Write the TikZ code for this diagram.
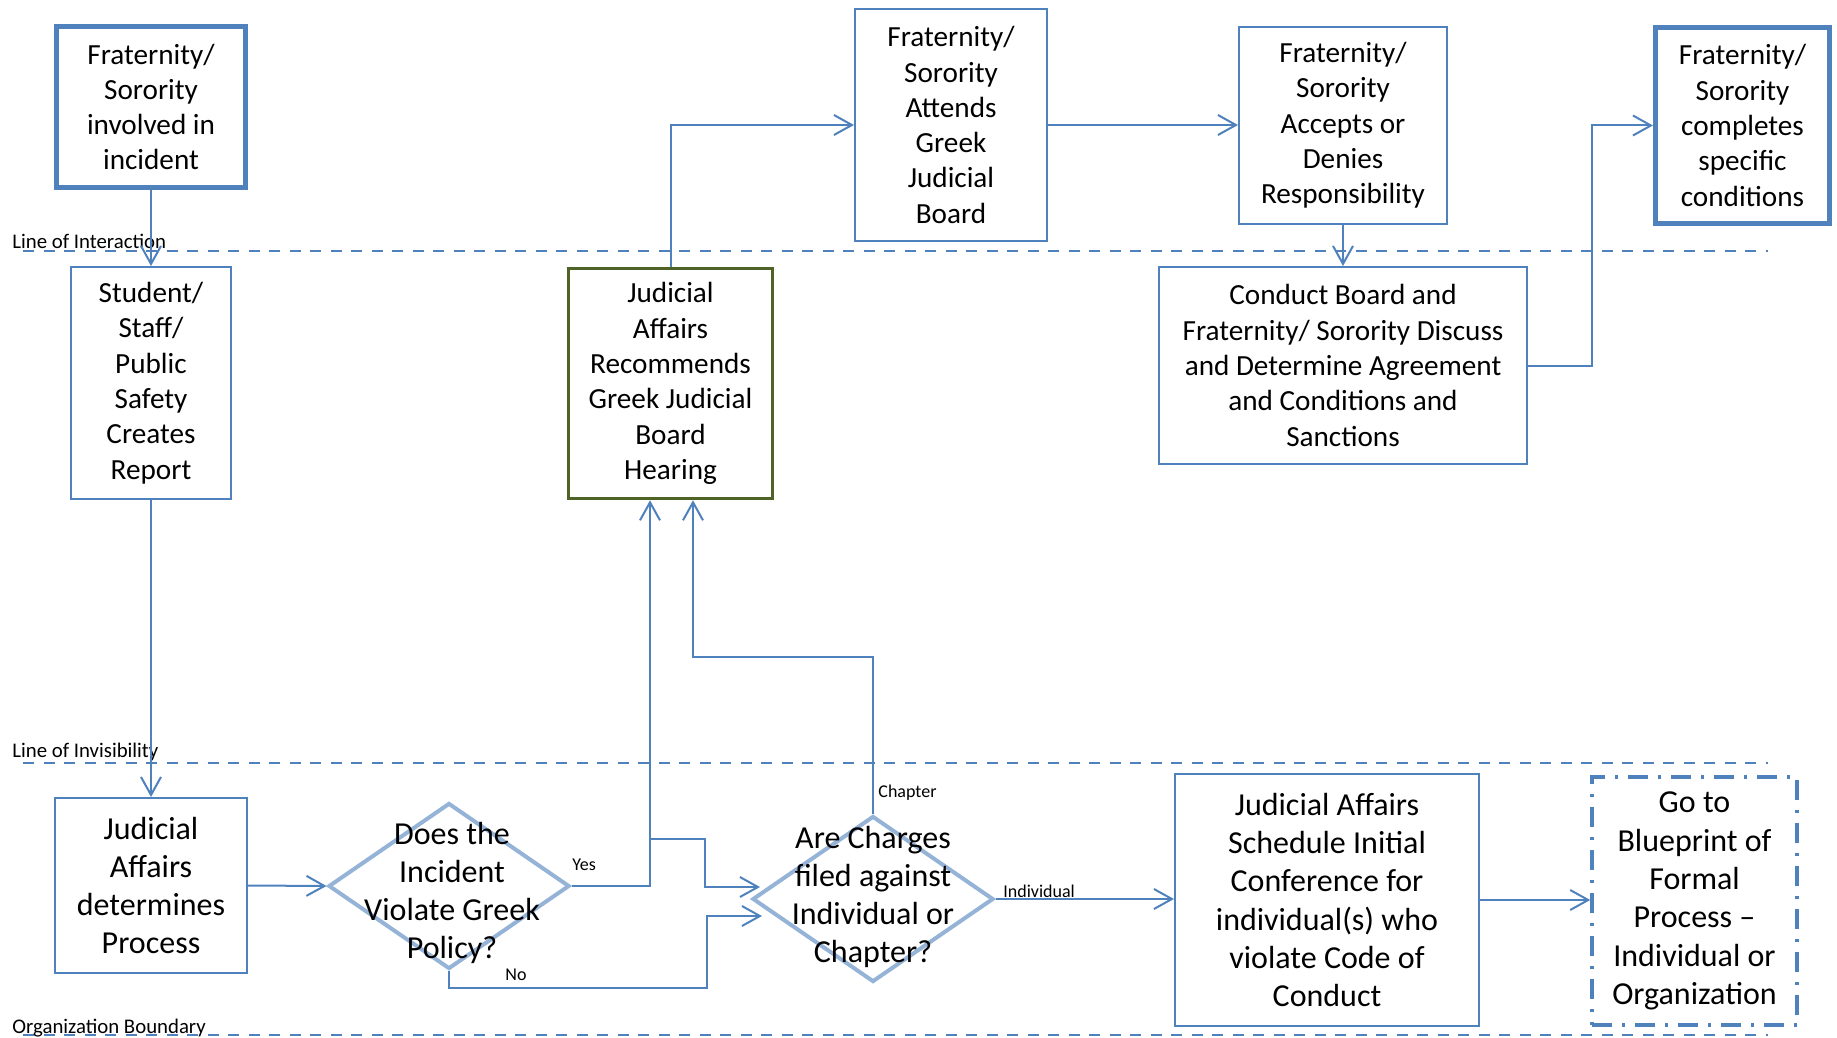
\documentclass[tikz,border=0pt]{standalone}
\usepackage{fontspec}
\setmainfont{Carlito}
\usetikzlibrary{shapes.geometric,arrows.meta,calc}
\definecolor{boxblue}{HTML}{4F81BD}
\definecolor{diablue}{HTML}{95B3D7}
\definecolor{judgreen}{HTML}{4F6228}

\begin{document}
\begin{tikzpicture}[x=0.5pt, y=-0.5pt,
        every node/.style={align=center, inner sep=0pt},
        box/.style={draw=boxblue, line width=1pt, font=\fontsize{14.6}{17.65}\selectfont},
        lowbox/.style={box, font=\fontsize{16}{19.15}\selectfont},
        thickbox/.style={box, line width=2.5pt},
        decision/.style={diamond, draw=diablue, line width=2pt, minimum width=120.5pt, minimum height=83pt},
        qtext/.style={font=\fontsize{16}{19.15}\selectfont},
        lbl/.style={font=\fontsize{10.4}{12.5}\selectfont, anchor=base west},
        tag/.style={font=\fontsize{9}{11}\selectfont, anchor=base west},
        arr/.style={draw=boxblue, line width=1pt, -{Straight Barb[length=9pt, width=10pt]}},
        sepline/.style={draw=boxblue, line width=1pt, dash pattern=on 5.5pt off 4.75pt}]
        \useasboundingbox (0,0) rectangle (1837,1038);

        % Boundary lines
        \foreach \y/\b/\txt in {251/249/Line of Interaction, 763/757/Line of Invisibility, 1035/1033/Organization Boundary} {
            \draw[sepline] (23,\y) -- (1768,\y);
            \node[lbl] at (12,\b) {\txt};
        }

        % Upper row
        \node[thickbox, minimum width=94.5pt, minimum height=80pt] (involved) at (151,107) {Fraternity/\\Sorority\\involved in\\incident};
        \node[box, minimum width=96pt, minimum height=116pt] (attends) at (951,125) {Fraternity/\\Sorority\\Attends\\Greek\\Judicial\\Board};
        \node[box, minimum width=104pt, minimum height=98.5pt] (accepts) at (1343,125.5) {Fraternity/\\Sorority\\Accepts or\\Denies\\Responsibility};
        \node[thickbox, minimum width=87pt, minimum height=98pt] (completes) at (1742.5,125.5) {Fraternity/\\Sorority\\completes\\specific\\conditions};

        % Middle row
        \node[box, minimum width=80pt, minimum height=116pt] (report) at (151,383) {Student/\\Staff/\\Public\\Safety\\Creates\\Report};
        \node[box, draw=judgreen, line width=1.75pt, minimum width=102pt, minimum height=115pt] (recommend) at (670.5,383.5) {Judicial\\Affairs\\Recommends\\Greek Judicial\\Board\\Hearing};
        \node[box, minimum width=184pt, minimum height=98.5pt] (conduct) at (1343,365.5) {Conduct Board and\\Fraternity/ Sorority Discuss\\and Determine Agreement\\and Conditions and\\Sanctions};

        % Lower row
        \node[lowbox, minimum width=96pt, minimum height=87.5pt] (process) at (151,885.5) {Judicial\\Affairs\\determines\\Process};
        \node[decision] (d1) at (449,886) {};
        \node[qtext] (d1t) at (452,893) {Does the\\Incident\\Violate Greek\\Policy?};
        \node[decision] (d2) at (873,899) {};
        \node[qtext] (d2t) at (873,897) {Are Charges\\filed against\\Individual or\\Chapter?};
        \node[lowbox, minimum width=152pt, minimum height=126pt] (schedule) at (1327,900) {Judicial Affairs\\Schedule Initial\\Conference for\\individual(s) who\\violate Code of\\Conduct};
        \node[lowbox, line width=1.75pt, dash pattern=on 10pt off 5pt on 1.5pt off 5pt, minimum width=102.5pt, minimum height=124pt] (goto) at (1694.5,901) {Go to\\Blueprint of\\Formal\\Process –\\Individual or\\Organization};

        % Helper points
        \coordinate (jy) at ($(recommend.south)+(-20.5,0)$);
        \coordinate (jc) at ($(recommend.south)+(22.5,0)$);
        \coordinate (yb) at (650,839);
        \coordinate (d2a) at (760,887);
        \coordinate (d2b) at (762,916);

        % Connectors
        \draw[arr] (involved) -- (report);
        \draw[arr] (report) -- (process);
        \draw[arr] (process.east) -- (d1.west);
        \draw[arr] (d1.east) -| (jy);
        \draw[arr] (yb) -- ++(55,0) |- (d2a);
        \draw[arr] (d1.south) |- (707,988) |- (d2b);
        \draw[arr] (d2.north) |- ($(jc)+(0,157)$) -- (jc);
        \draw[arr] (d2.east) -- (d2.east -| schedule.west);
        \draw[arr] (schedule.east) -- (schedule.east -| goto.west);
        \draw[arr] (recommend.north) |- (attends.west);
        \draw[arr] (attends.east) -- (attends.east -| accepts.west);
        \draw[arr] (accepts.south) -- (conduct.north);
        \draw[arr] (conduct.east) -- ++(64,0) |- (completes.west);

        % Branch labels
        \node[tag] (yes) at (572,870) {Yes};
        \node[tag] (no) at (505,980) {No};
        \node[tag] (chap) at (878,797) {Chapter};
        \node[tag] (indiv) at (1003,897) {Individual};
    \end{tikzpicture}
\end{document}
